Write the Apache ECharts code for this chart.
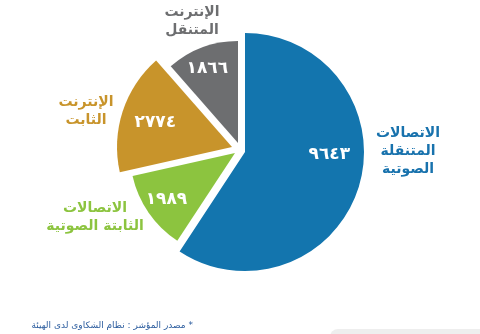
<!DOCTYPE html>
<html>
<head>
<meta charset="utf-8">
<script src="https://cdn.jsdelivr.net/npm/echarts@6/dist/echarts.min.js"></script>
<style>html,body{margin:0;padding:0;background:#fff;}#c{width:480px;height:334px;direction:rtl;}</style>
</head>
<body>
<div id="c" dir="rtl"></div>
<script>
const categories = ['الاتصالات\nالمتنقلة\nالصوتية', 'الاتصالات\nالثابتة الصوتية', 'الإنترنت\nالثابت', 'الإنترنت\nالمتنقل'];
const values = [9643, 1989, 2774, 1866];
const footnote = '* مصدر المؤشر : نظام الشكاوى لدى الهيئة';

const colors = ['#1375AE', '#8CC43F', '#C8942B', '#6D6E70'];
const textColors = ['#1872AD', '#8CC43F', '#C8942B', '#6D6E70'];
// per-slice geometry (styling only)
const centers = [[245, 152], [235, 153], [232, 147], [238, 143]];
const radii = [119, 105, 115, 102];
const outerLabelPos = [[408, 151], [95, 217], [86, 111], [192, 21]];
const FONT = '"DejaVu Sans", sans-serif';

function toArabicDigits(n) {
  return String(n).replace(/[0-9]/g, d => '٠١٢٣٤٥٦٧٨٩'[+d]);
}

const series = [];
values.forEach((_, k) => {
  series.push({
    type: 'pie',
    center: centers[k],
    radius: [0, radii[k]],
    startAngle: 90,
    clockwise: true,
    silent: true,
    animation: false,
    label: { show: false },
    labelLine: { show: false },
    data: values.map((v, i) => ({
      value: v,
      name: categories[i],
      itemStyle: { color: i === k ? colors[k] : 'rgba(0,0,0,0)', borderWidth: 0 }
    }))
  });
});
// value labels
series.push({
  type: 'pie',
  center: [238, 150],
  radius: [68, 100],
  startAngle: 90,
  clockwise: true,
  silent: true,
  animation: false,
  itemStyle: { color: 'rgba(0,0,0,0)' },
  labelLine: { show: false },
  label: {
    show: true,
    position: 'inside',
    formatter: p => toArabicDigits(p.value),
    color: '#fff',
    fontFamily: FONT,
    fontWeight: 'bold',
    fontSize: 17
  },
  labelLayout: p => p.dataIndex === 0 ? { dx: 8, dy: -20 } : {},
  data: values.map((v, i) => ({ value: v, name: categories[i] }))
});

const graphics = categories.map((c, i) => ({
  type: 'text',
  x: outerLabelPos[i][0],
  y: outerLabelPos[i][1],
  style: {
    text: c,
    fill: textColors[i],
    font: 'bold 14px ' + FONT,
    align: 'center',
    verticalAlign: 'middle',
    lineHeight: 18
  }
}));
graphics.push({
  type: 'text',
  x: 193,
  y: 326,
  style: { text: footnote, fill: '#2B5C9E', font: '9px ' + FONT, align: 'right', verticalAlign: 'middle' }
});
graphics.push({
  type: 'rect',
  shape: { x: 330, y: 329, width: 170, height: 20, r: 8 },
  style: { fill: '#EEEEEE' }
});

const chart = echarts.init(document.getElementById('c'), null, { renderer: 'canvas' });
chart.setOption({
  backgroundColor: '#fff',
  animation: false,
  series: series,
  graphic: graphics
});
</script>
</body>
</html>
